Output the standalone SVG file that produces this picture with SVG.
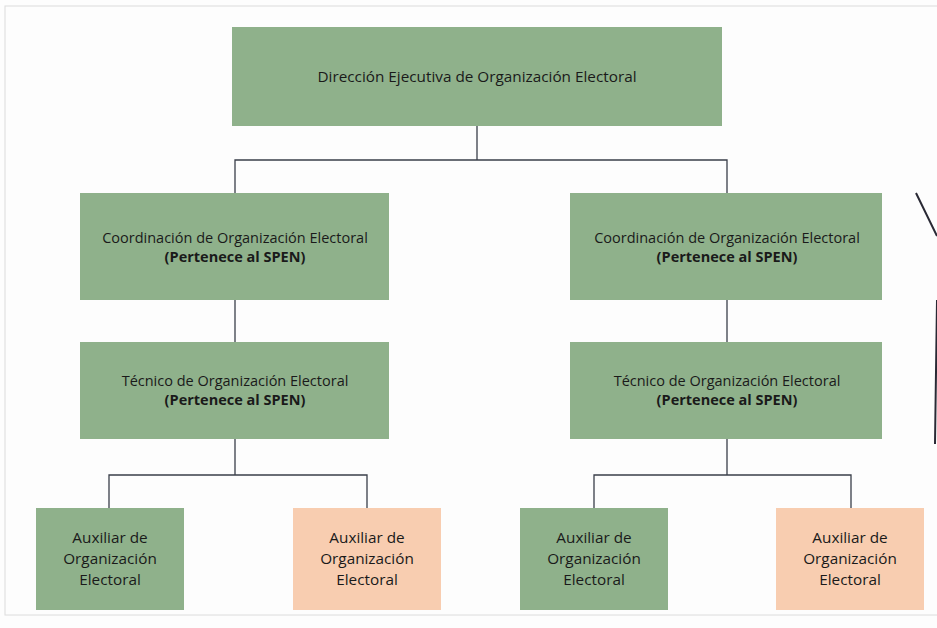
<svg xmlns="http://www.w3.org/2000/svg" width="937" height="628" viewBox="0 0 937 628">
<style>
.g{fill:#8fb18b;}
.p{fill:#f8cdb0;}
text{font-family:"Open Sans","Liberation Sans",sans-serif;font-size:14.5px;fill:#1a1a1a;text-anchor:middle;}
.t{font-size:15.3px;}
.s{font-size:15.3px;}
.b{font-weight:bold;}
.c{fill:none;stroke:#3a3f4a;stroke-width:1.3;}
</style>
<rect x="0" y="0" width="937" height="628" fill="#fdfdfd"/>
<rect x="5" y="6" width="940" height="609" fill="none" stroke="#dcdcdc" stroke-width="1"/>
<g id="connectors" class="c">
<path d="M477,126 V160 M235,193 V160 H727 V193"/>
<path d="M235,300 V342"/>
<path d="M727,300 V342"/>
<path d="M235,439 V475 M109,508 V475 H367 V508"/>
<path d="M727,439 V475 M594,508 V475 H851 V508"/>
</g>
<g id="n1"><rect class="g" x="232" y="27" width="490" height="99"/><text class="t" x="477" y="82">Dirección Ejecutiva de Organización Electoral</text></g>
<g id="n2"><rect class="g" x="80" y="193" width="309" height="107"/><text x="235" y="243">Coordinación de Organización Electoral</text><text class="b" x="235" y="262">(Pertenece al SPEN)</text></g>
<g id="n3"><rect class="g" x="570" y="193" width="312" height="107"/><text x="727" y="243">Coordinación de Organización Electoral</text><text class="b" x="727" y="262">(Pertenece al SPEN)</text></g>
<g id="n4"><rect class="g" x="80" y="342" width="309" height="97"/><text x="235" y="386">Técnico de Organización Electoral</text><text class="b" x="235" y="405">(Pertenece al SPEN)</text></g>
<g id="n5"><rect class="g" x="570" y="342" width="312" height="97"/><text x="727" y="386">Técnico de Organización Electoral</text><text class="b" x="727" y="405">(Pertenece al SPEN)</text></g>
<g id="n6"><rect class="g" x="36" y="508" width="148" height="102"/><text class="s" x="110" y="543">Auxiliar de</text><text class="s" x="110" y="564">Organización</text><text class="s" x="110" y="585">Electoral</text></g>
<g id="n7"><rect class="p" x="293" y="508" width="148" height="102"/><text class="s" x="367" y="543">Auxiliar de</text><text class="s" x="367" y="564">Organización</text><text class="s" x="367" y="585">Electoral</text></g>
<g id="n8"><rect class="g" x="520" y="508" width="148" height="102"/><text class="s" x="594" y="543">Auxiliar de</text><text class="s" x="594" y="564">Organización</text><text class="s" x="594" y="585">Electoral</text></g>
<g id="n9"><rect class="p" x="776" y="508" width="148" height="102"/><text class="s" x="850" y="543">Auxiliar de</text><text class="s" x="850" y="564">Organización</text><text class="s" x="850" y="585">Electoral</text></g>
<path d="M916,193 L937,236 M937,300 L935,444" fill="none" stroke="#2a2a35" stroke-width="2"/>
</svg>
